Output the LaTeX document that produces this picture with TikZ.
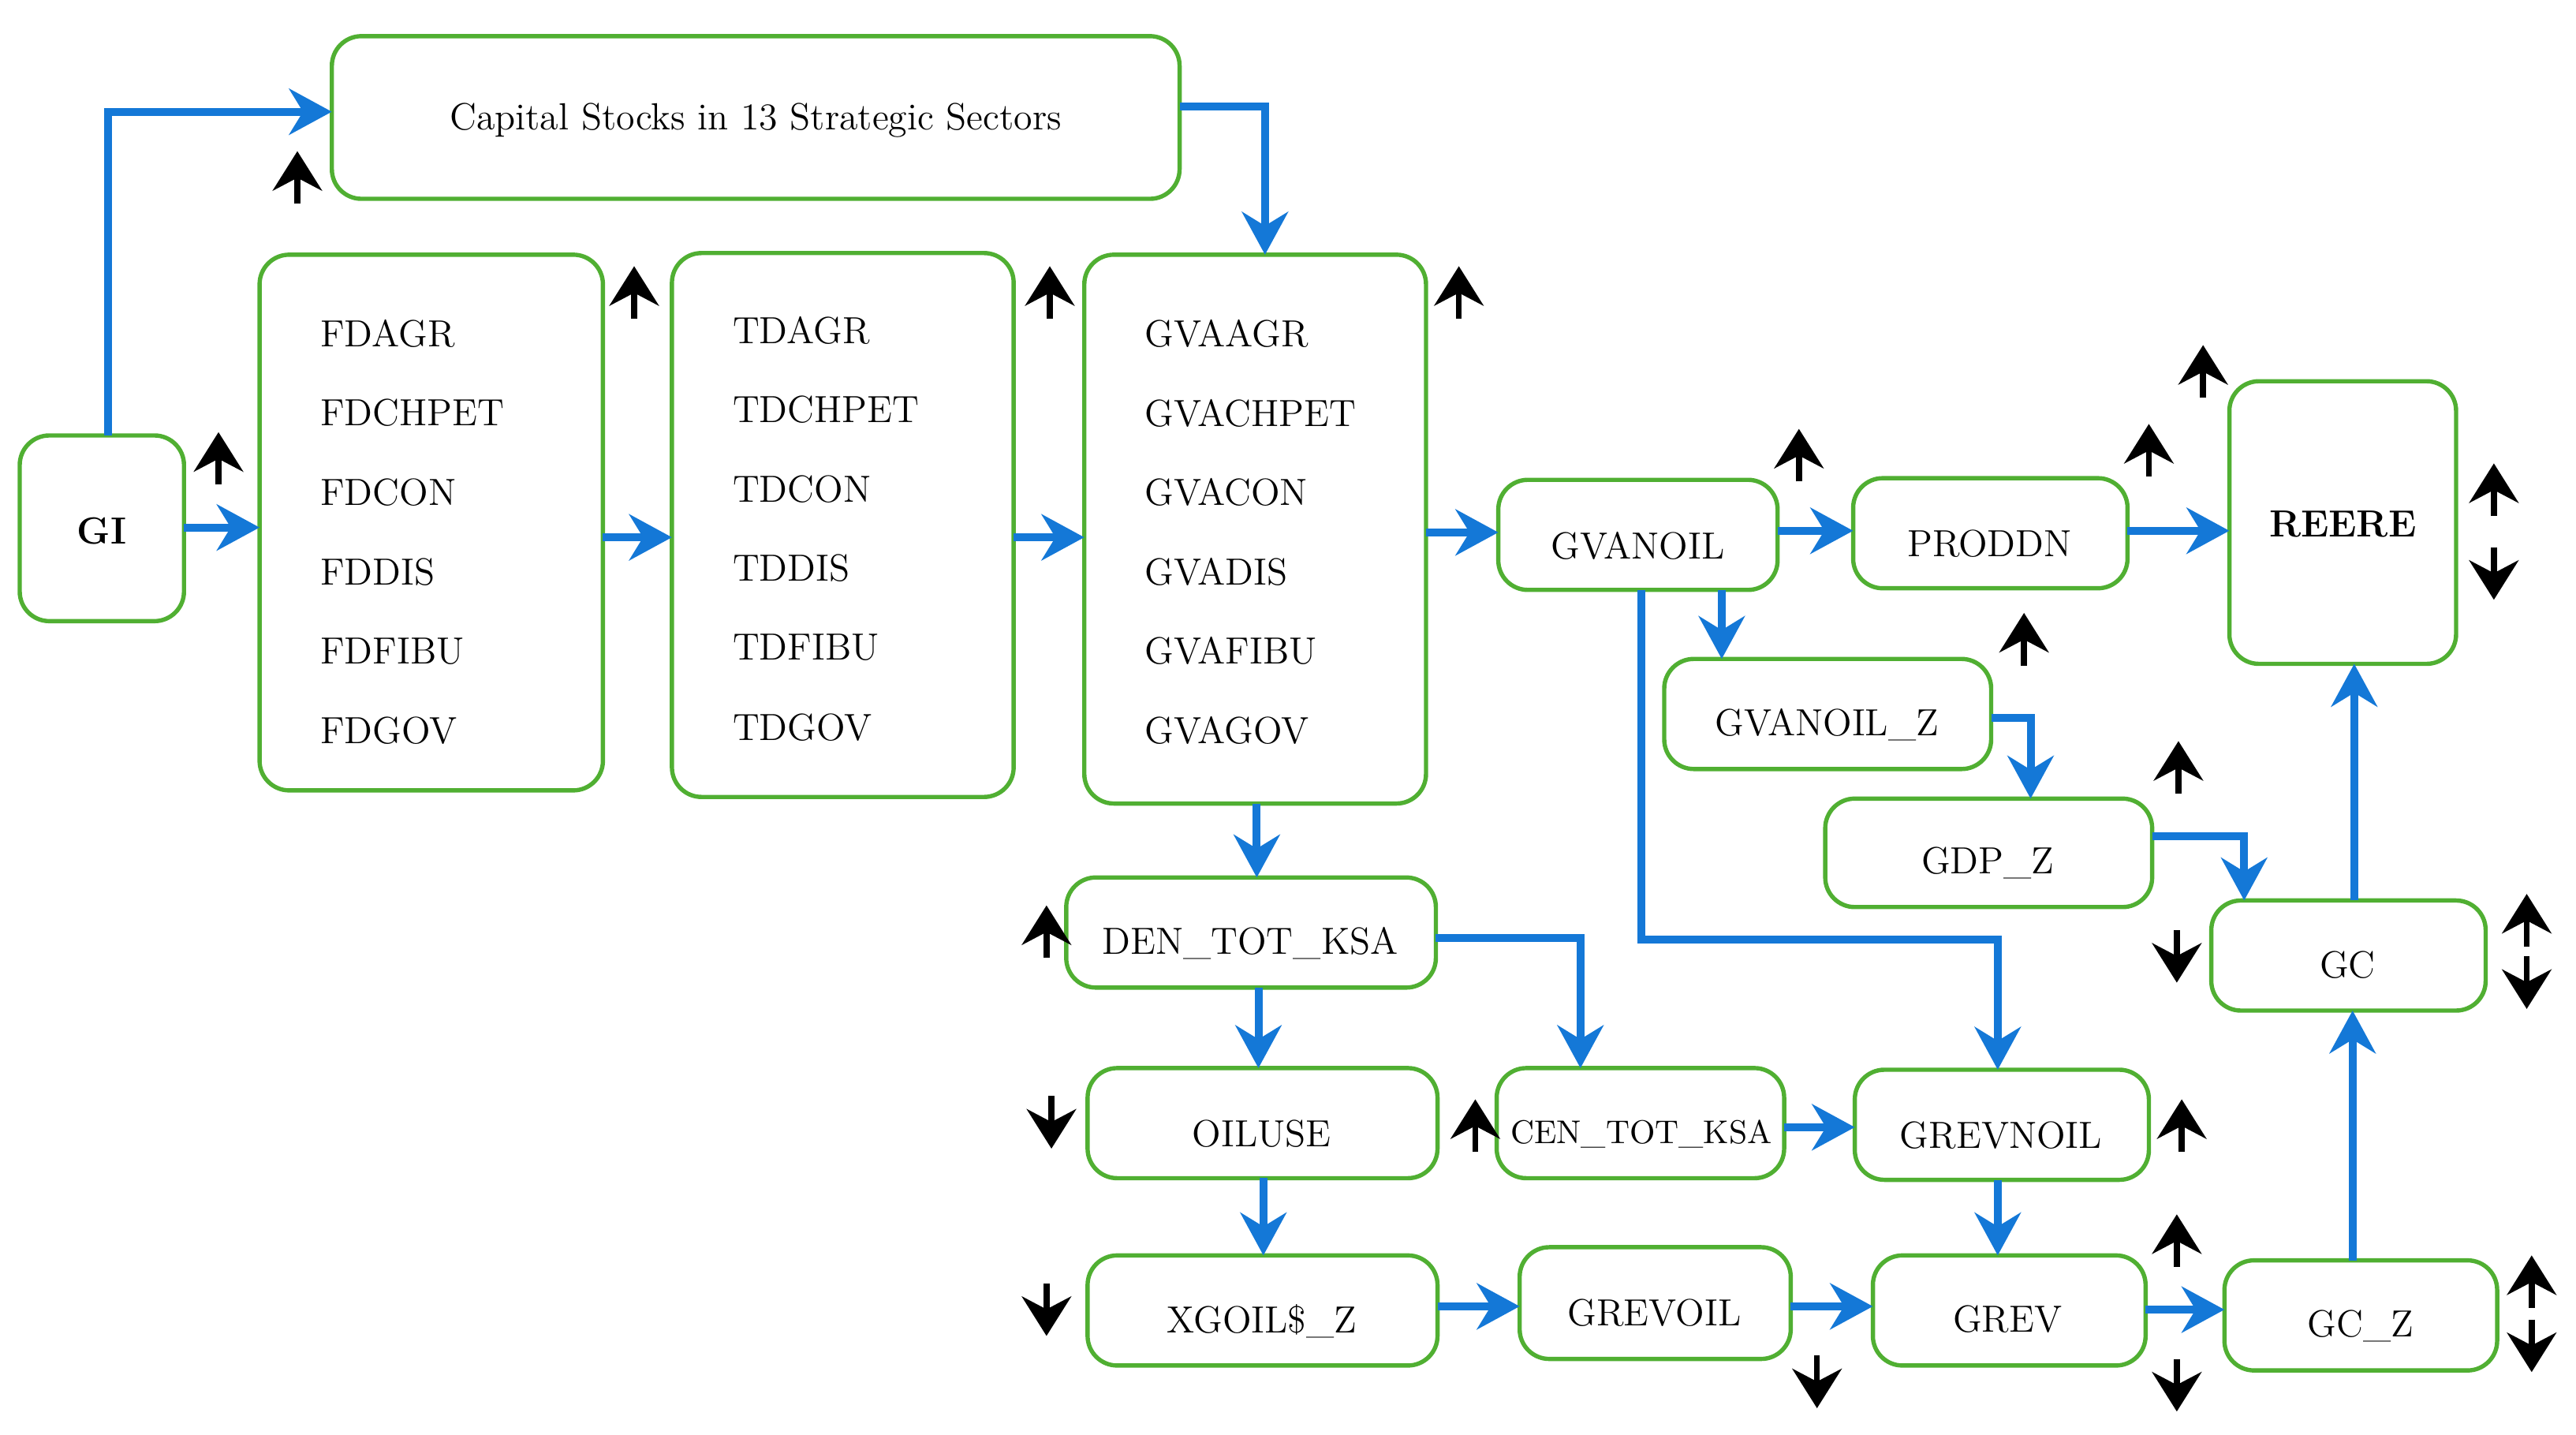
\documentclass[tikz,border=0pt]{standalone}
\usetikzlibrary{arrows.meta}
\begin{document}
\begin{tikzpicture}[x=0.5pt,y=-0.5pt,
 lbl/.style={font=\fontsize{11.5}{13}\selectfont},
 flow/.style={draw={rgb,255:red,20;green,120;blue,215}, line width=2.4pt, -{Stealth[length=13pt,width=14pt]}},
 sig/.style={line width=1.8pt, -{Stealth[length=12pt,width=15pt]}}]
\useasboundingbox (0,0) rectangle (1568,873);
\definecolor{gr}{RGB}{80,175,50}
\tikzset{box/.style={draw=gr, line width=1.3pt, rounded corners=9pt}}
% boxes
\draw[box] (202,22) rectangle (718,121); \node[lbl] (cap) at (460,73) {Capital Stocks in 13 Strategic Sectors};
\coordinate (capR) at (718,65); \coordinate (capL) at (202,68);
\draw[box] (12,265) rectangle (112,378); \node[lbl,font=\fontsize{11.5}{13}\selectfont\bfseries] (gi) at (62,323) {GI};
\draw[box] (158,155) rectangle (367,481);
\draw[box] (409,154) rectangle (617,485);
\draw[box] (660,155) rectangle (868,489);
\foreach \t [count=\i from 0] in {AGR,CHPET,CON,DIS,FIBU,GOV}{
 \node[lbl,anchor=west] (fd\i) at (188,{203+48.3*\i}) {FD\t};
 \node[lbl,anchor=west] (td\i) at (439,{201+48.3*\i}) {TD\t};
 \node[lbl,anchor=west] (gva\i) at (690,{203+48.3*\i}) {GVA\t};
}
\draw[box] (912,292) rectangle (1082,359); \node[lbl] (gvanoil) at (997,332) {GVANOIL};
\draw[box] (1128,291) rectangle (1295,358); \node[lbl] (proddn) at (1211,331) {PRODDN};
\draw[box] (1357,232) rectangle (1495,404); \node[lbl,font=\fontsize{11.5}{13}\selectfont\bfseries] (reere) at (1426,319) {REERE};
\draw[box] (1013,401) rectangle (1212,468); \node[lbl] (gvz) at (1112,441) {GVANOIL\_Z};
\draw[box] (1111,486) rectangle (1310,552); \node[lbl] (gdpz) at (1210,525) {GDP\_Z};
\draw[box] (1346,548) rectangle (1513,615); \node[lbl] (gc) at (1429,587) {GC};
\draw[box] (649,534) rectangle (874,601); \node[lbl] (den) at (761,574) {DEN\_TOT\_KSA};
\draw[box] (662,650) rectangle (875,717); \node[lbl] (oil) at (768,690) {OILUSE};
\draw[box] (911,650) rectangle (1086,717); \node[lbl,font=\fontsize{10}{12}\selectfont] (cen) at (999,690) {CEN\_TOT\_KSA};
\draw[box] (1129,651) rectangle (1308,718); \node[lbl] (grn) at (1218,691) {GREVNOIL};
\draw[box] (662,764) rectangle (875,831); \node[lbl] (xg) at (768,804) {XGOIL\$\_Z};
\draw[box] (925,759) rectangle (1090,827); \node[lbl] (gro) at (1007,799) {GREVOIL};
\draw[box] (1140,764) rectangle (1306,831); \node[lbl] (grev) at (1222,803) {GREV};
\draw[box] (1354,767) rectangle (1520,834); \node[lbl] (gcz) at (1437,807) {GC\_Z};
% flows
\draw[flow] (66,265) -- (66,68) -- (capL);
\draw[flow] (capR) -- (770,65) -- (770,155);
\draw[flow] (112,321) -- (158,321);
\draw[flow] (367,327) -- (409,327);
\draw[flow] (617,327) -- (660,327);
\draw[flow] (868,324) -- (912,324);
\draw[flow] (1082,323) -- (1128,323);
\draw[flow] (1295,323) -- (1357,323);
\draw[flow] (1048,359) -- (1048,401);
\draw[flow] (999,359) -- (999,572) -- (1216,572) -- (1216,651);
\draw[flow] (1212,437) -- (1236,437) -- (1236,486);
\draw[flow] (1310,509) -- (1366,509) -- (1366,548);
\draw[flow] (1433,548) -- (1433,404);
\draw[flow] (765,489) -- (765,534);
\draw[flow] (874,571) -- (962,571) -- (962,650);
\draw[flow] (766,601) -- (766,650);
\draw[flow] (769,717) -- (769,764);
\draw[flow] (1086,686) -- (1129,686);
\draw[flow] (1216,718) -- (1216,764);
\draw[flow] (875,795) -- (925,795);
\draw[flow] (1090,795) -- (1140,795);
\draw[flow] (1306,797) -- (1354,797);
\draw[flow] (1432,767) -- (1432,615);
% signals
\foreach \x/\y in {181/108,133/279,386/178,639/178,888/178,1095/277,1341/226,1308/274,1232/389,1326/467,637/567,898/685,1328/685,1325/755,1518/298,1538/560,1541/780}
 \draw[sig] (\x,\y+16) -- (\x,\y-16);
\foreach \x/\y in {1518/349,1538/598,1325/582,640/683,637/797,1106/841,1325/843,1541/819}
 \draw[sig] (\x,\y-16) -- (\x,\y+16);
\end{tikzpicture}
\end{document}
